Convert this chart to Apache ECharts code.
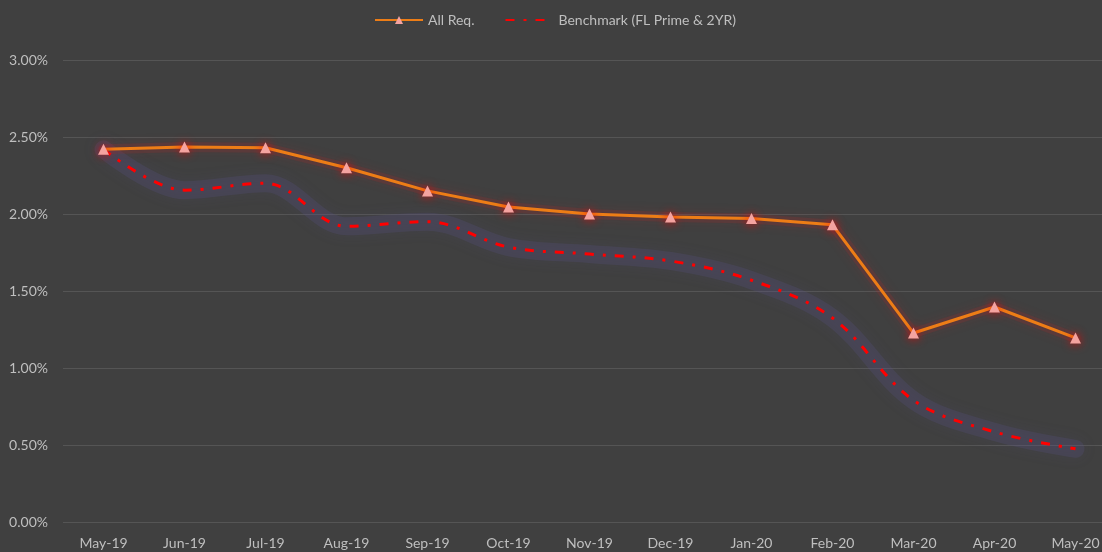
<!DOCTYPE html>
<html>
<head>
<meta charset="utf-8">
<script src="https://cdn.jsdelivr.net/npm/echarts@6/dist/echarts.min.js"></script>
<style>
  html, body { margin: 0; padding: 0; background: #404040; }
  #chart { width: 1102px; height: 552px; }
</style>
</head>
<body>
<div id="chart"></div>
<script>
// categories (months)
var months = ['May-19', 'Jun-19', 'Jul-19', 'Aug-19', 'Sep-19', 'Oct-19', 'Nov-19',
  'Dec-19', 'Jan-20', 'Feb-20', 'Mar-20', 'Apr-20', 'May-20'];
// All Req. rate, in %
var allReq = [2.42, 2.435, 2.43, 2.30, 2.15, 2.045, 2.00, 1.98, 1.97, 1.93, 1.227, 1.396, 1.195];
// Benchmark (FL Prime & 2YR), in %
var benchmark = [2.42, 2.155, 2.20, 1.92, 1.95, 1.785, 1.74, 1.695, 1.57, 1.325, 0.79, 0.585, 0.475];

var labelColor = '#bfbfbf';
var font = 'Lato, "Open Sans", sans-serif';

var chart = echarts.init(document.getElementById('chart'));
chart.setOption({
  backgroundColor: '#404040',
  animation: false,
  legend: {
    top: 8,
    left: 369,
    itemGap: 30,
    itemWidth: 48,
    itemHeight: 10,
    textStyle: { color: labelColor, fontSize: 14, fontFamily: font },
    data: [
      { name: 'All Req.' },
      // benchmark has no marker, only the dash-dot line
      { name: 'Benchmark (FL Prime & 2YR)', itemStyle: { opacity: 0 } }
    ]
  },
  grid: {
    left: 63,
    width: 1053,
    top: 60,
    bottom: 30,
    outerBoundsMode: 'none'
  },
  xAxis: {
    type: 'category',
    data: months,
    boundaryGap: true,
    axisLine: { show: false },
    axisTick: { show: false },
    axisLabel: {
      color: labelColor,
      fontSize: 14,
      fontFamily: font,
      margin: 14,
      interval: 0
    }
  },
  yAxis: {
    type: 'value',
    min: 0,
    max: 3,
    interval: 0.5,
    axisLine: { show: false },
    axisTick: { show: false },
    axisLabel: {
      color: labelColor,
      fontSize: 14,
      fontFamily: font,
      margin: 15,
      formatter: function (v) { return v.toFixed(2) + '%'; }
    },
    splitLine: { lineStyle: { color: '#555555', width: 1 } }
  },
  series: [
    // soft glow under the benchmark line
    {
      name: 'benchGlow',
      type: 'line',
      data: benchmark,
      smooth: 0.35,
      symbol: 'none',
      silent: true,
      lineStyle: {
        color: 'rgba(90, 80, 135, 0.22)',
        width: 18,
        cap: 'round',
        shadowColor: 'rgba(90, 80, 140, 0.55)',
        shadowBlur: 14
      },
      z: 1
    },
    {
      name: 'Benchmark (FL Prime & 2YR)',
      type: 'line',
      data: benchmark,
      smooth: 0.35,
      symbol: 'none',
      itemStyle: { color: '#ff0000' },
      lineStyle: {
        color: '#ff0000',
        width: 3,
        type: [9, 9, 3, 9]
      },
      z: 2
    },
    // red glow under the All Req. line
    {
      name: 'reqGlow',
      type: 'line',
      data: allReq,
      symbol: 'none',
      silent: true,
      lineStyle: {
        color: 'rgba(190, 40, 40, 0.16)',
        width: 10,
        join: 'round',
        cap: 'round',
        shadowColor: 'rgba(220, 30, 30, 0.55)',
        shadowBlur: 12
      },
      z: 2
    },
    {
      name: 'All Req.',
      type: 'line',
      data: allReq,
      symbol: 'triangle',
      symbolSize: 11,
      itemStyle: {
        color: '#f4a3a0',
        shadowColor: 'rgba(255, 0, 0, 0.9)',
        shadowBlur: 10
      },
      lineStyle: {
        color: '#ed7d16',
        width: 3
      },
      z: 3
    }
  ]
});
</script>
</body>
</html>
